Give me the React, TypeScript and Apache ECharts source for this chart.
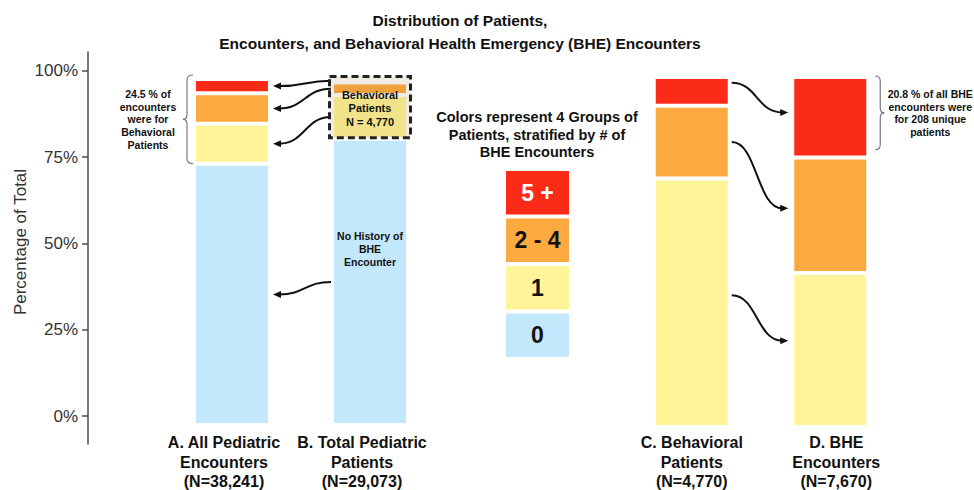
import React, { useEffect, useRef } from "react";
import * as echarts from "echarts";

// ---------- data ----------
const groupNames = ["0", "1", "2 - 4", "5 +"];
const leftCategories = [
  "A. All Pediatric\nEncounters\n(N=38,241)",
  "B. Total Pediatric\nPatients\n(N=29,073)",
];
const rightCategories = [
  "C. Behavioral\nPatients\n(N=4,770)",
  "D. BHE\nEncounters\n(N=7,670)",
];
// percent of each bar (A, B, C, D) by number of BHE encounters
const group0 = [75.5, 82.7, 0, 0];
const group1 = [11.6, 12.7, 71.0, 44.0];
const group2to4 = [8.8, 3.6, 20.8, 33.0];
const group5plus = [4.1, 1.0, 8.2, 23.0];
const yTicks = [0, 25, 50, 75, 100];
const legendUnits = [1, 1, 1, 1];
const bheTopShareD = 20.8;

const titleText = "Distribution of Patients,\nEncounters, and Behavioral Health Emergency (BHE) Encounters";
const keyTitle = "Colors represent 4 Groups of\nPatients, stratified by # of\nBHE Encounters";
const leftNote = "24.5 % of\nencounters\nwere for\nBehavioral\nPatients";
const rightNote = "20.8 % of all BHE\nencounters were\nfor 208 unique\npatients";
const boxNote = "Behavioral\nPatients\nN = 4,770";
const blueNote = "No History of\nBHE\nEncounter";

// ---------- style ----------
const FONT = '"Liberation Sans", Arial, Helvetica, sans-serif';
const COLORS = ["#C3E8FB", "#FFF598", "#FCAA3F", "#FC2B18"];
const BAR_W = 76;

export default function App() {
  const ref = useRef<HTMLDivElement>(null);

  useEffect(() => {
    if (!ref.current) return;
    const chart = echarts.init(ref.current, null, { renderer: "svg" });
    const groupData = [group0, group1, group2to4, group5plus];

    const series: any[] = [];
    groupData.forEach((arr, gi) => {
      series.push({
        type: "bar",
        name: groupNames[gi],
        xAxisIndex: 1,
        yAxisIndex: 1,
        stack: "left",
        barWidth: BAR_W,
        itemStyle: { color: COLORS[gi], borderColor: "#fff", borderWidth: 2 },
        data: arr.slice(0, 2).map((v, ci) =>
          gi === 0 && ci === 1
            ? {
                value: v,
                label: {
                  show: true,
                  position: "inside",
                  offset: [0, -33],
                  formatter: blueNote,
                  fontFamily: FONT,
                  fontWeight: "bold",
                  fontSize: 10.5,
                  lineHeight: 13,
                  color: "#111",
                },
              }
            : v
        ),
      });
    });
    groupData.forEach((arr, gi) => {
      series.push({
        type: "bar",
        name: groupNames[gi],
        xAxisIndex: 2,
        yAxisIndex: 2,
        stack: "right",
        barWidth: BAR_W,
        itemStyle: { color: COLORS[gi], borderColor: "#fff", borderWidth: 2 },
        data: arr.slice(2, 4),
      });
    });
    legendUnits.forEach((u, gi) => {
      series.push({
        type: "bar",
        xAxisIndex: 3,
        yAxisIndex: 3,
        stack: "key",
        barWidth: 67,
        silent: true,
        itemStyle: { color: COLORS[gi], borderColor: "#fff", borderWidth: 2 },
        label: {
          show: true,
          position: "inside",
          formatter: groupNames[gi],
          fontFamily: FONT,
          fontWeight: "bold",
          fontSize: 23,
          color: gi === 3 ? "#fff" : "#111",
        },
        data: [u],
      });
    });

    const catLabel = {
      fontFamily: FONT,
      fontWeight: "bold",
      fontSize: 16,
      lineHeight: 19.5,
      color: "#111",
      interval: 0,
    };

    const option: any = {
      animation: false,
      backgroundColor: "#fff",
      grid: [
        { left: 88, top: 52, width: 10, height: 392, outerBoundsMode: "none", containLabel: false },
        { left: 163, top: 79, width: 276, height: 346, outerBoundsMode: "none", containLabel: false },
        { left: 622.5, top: 77, width: 277, height: 350, outerBoundsMode: "none", containLabel: false },
        { left: 504, top: 169, width: 67, height: 190, outerBoundsMode: "none", containLabel: false },
      ],
      xAxis: [
        { gridIndex: 0, type: "value", show: false, min: 0, max: 1 },
        {
          gridIndex: 1,
          type: "category",
          data: leftCategories.map((v) => ({ value: v, textStyle: { padding: [0, 16, 0, 0] } })),
          axisLine: { show: false },
          axisTick: { show: false },
          axisLabel: { ...catLabel, margin: 8 },
        },
        {
          gridIndex: 2,
          type: "category",
          data: rightCategories.map((v, i) =>
            i === 1 ? { value: v, textStyle: { padding: [0, 0, 0, 12] } } : v
          ),
          axisLine: { show: false },
          axisTick: { show: false },
          axisLabel: { ...catLabel, margin: 6 },
        },
        { gridIndex: 3, type: "category", data: ["key"], show: false },
      ],
      yAxis: [
        {
          gridIndex: 0,
          type: "value",
          min: -8.1,
          max: 105.5,
          axisLine: { show: true, lineStyle: { color: "#4d4d4d", width: 1.5 } },
          axisTick: { show: true, length: 6, customValues: yTicks, lineStyle: { color: "#4d4d4d", width: 1.5 } },
          axisLabel: {
            customValues: yTicks,
            formatter: "{value}%",
            fontFamily: FONT,
            fontSize: 17,
            color: "#333",
            margin: 10,
          },
          splitLine: { show: false },
        },
        { gridIndex: 1, type: "value", min: 0, max: 100, show: false },
        { gridIndex: 2, type: "value", min: 0, max: 100, show: false },
        { gridIndex: 3, type: "value", min: 0, max: 4, show: false },
      ],
      series,
    };
    chart.setOption(option);

    // ---------- annotations anchored to data ----------
    const px = (grid: number, cat: number, val: number) =>
      chart.convertToPixel({ gridIndex: grid } as any, [cat, val]) as number[];
    const cum = (ci: number) => {
      const c = [0];
      groupData.forEach((arr) => c.push(c[c.length - 1] + arr[ci]));
      return c;
    };
    const segVal = (ci: number, gi: number, fromTop: number) => {
      const c = cum(ci);
      return c[gi + 1] - fromTop * (c[gi + 1] - c[gi]);
    };

    const g: any[] = [];
    const txt = (x: number, y: number, text: string, size: number, weight: string, lh: number, color = "#111", rotation = 0) => ({
      type: "text",
      x,
      y,
      rotation,
      silent: true,
      z: 20,
      style: {
        text,
        x: 0,
        y: 0,
        fill: color,
        fontFamily: FONT,
        fontSize: size,
        fontWeight: weight,
        lineHeight: lh,
        align: "center",
        verticalAlign: "middle",
        textAlign: "center",
        textVerticalAlign: "middle",
      },
    });
    const arrow = (sx: number, sy: number, ex: number, ey: number) => {
      const dir = ex > sx ? 1 : -1;
      const head = 8;
      const bx = ex - dir * (head - 2);
      const k = Math.abs(bx - sx) * 0.5;
      g.push({
        type: "bezierCurve",
        silent: true,
        shape: { x1: sx, y1: sy, x2: bx, y2: ey, cpx1: sx + dir * k, cpy1: sy, cpx2: bx - dir * k, cpy2: ey },
        style: { stroke: "#111", lineWidth: 2, fill: "none" },
      });
      g.push({
        type: "polygon",
        silent: true,
        shape: { points: [[ex, ey], [ex - dir * head, ey - 3.5], [ex - dir * head, ey + 3.5]] },
        style: { fill: "#111" },
      });
    };
    const brace = (endX: number, spineX: number, tipX: number, top: number, bottom: number) => {
      const m = (top + bottom) / 2;
      const r = 5;
      const st = { stroke: "#777", lineWidth: 1.2, fill: "none" };
      g.push({ type: "bezierCurve", silent: true, shape: { x1: endX, y1: top, cpx1: spineX, cpy1: top, x2: spineX, y2: top + r }, style: st });
      g.push({ type: "line", silent: true, shape: { x1: spineX, y1: top + r, x2: spineX, y2: m - r }, style: st });
      g.push({ type: "bezierCurve", silent: true, shape: { x1: spineX, y1: m - r, cpx1: spineX, cpy1: m, x2: tipX, y2: m }, style: st });
      g.push({ type: "bezierCurve", silent: true, shape: { x1: tipX, y1: m, cpx1: spineX, cpy1: m, x2: spineX, y2: m + r }, style: st });
      g.push({ type: "line", silent: true, shape: { x1: spineX, y1: m + r, x2: spineX, y2: bottom - r }, style: st });
      g.push({ type: "bezierCurve", silent: true, shape: { x1: spineX, y1: bottom - r, cpx1: spineX, cpy1: bottom, x2: endX, y2: bottom }, style: st });
      return m;
    };

    const aCx = px(1, 0, 0)[0];
    const bCx = px(1, 1, 0)[0];

    // dashed box around the behavioral part of bar B
    const boxTop = px(1, 1, 100)[1] - 2.5;
    const boxBottom = px(1, 1, group0[1])[1] - 1;
    g.push({
      type: "rect",
      silent: true,
      z: 10,
      shape: { x: bCx - BAR_W / 2 - 2.5, y: boxTop, width: BAR_W + 5, height: boxBottom - boxTop },
      style: { fill: "rgba(150,105,40,0.13)", stroke: "#222", lineWidth: 3, lineDash: [7, 4] },
    });
    g.push(txt(bCx, (boxTop + boxBottom) / 2 + 1, boxNote, 11, "bold", 13.5));

    // left arrows: B -> A
    [3, 2, 1, 0].forEach((gi) => {
      const sy = px(1, 1, segVal(1, gi, 0.5))[1];
      const ey = px(1, 0, segVal(0, gi, 0.5))[1];
      arrow(bCx - BAR_W / 2 - 1, sy, aCx + BAR_W / 2 + 3, ey);
    });
    // right arrows: C -> D
    const cCx = px(2, 0, 0)[0];
    const dCx = px(2, 1, 0)[0];
    const startFrac: Record<number, number> = { 3: 0.2, 2: 0.5, 1: 0.47 };
    [3, 2, 1].forEach((gi) => {
      const sy = px(2, 0, segVal(2, gi, startFrac[gi]))[1];
      const ey = px(2, 1, segVal(3, gi, 0.44))[1];
      arrow(cCx + BAR_W / 2 + 2, sy, dCx - BAR_W / 2 - 4, ey);
    });

    // braces + notes
    const aLeft = aCx - BAR_W / 2;
    const lm = brace(aLeft - 1, aLeft - 7, aLeft - 11, px(1, 0, 100)[1] - 4, px(1, 0, group0[0])[1]);
    g.push(txt(aLeft - 46, lm, leftNote, 10.5, "bold", 12.8));
    const dRight = dCx + BAR_W / 2;
    const rm = brace(dRight + 7, dRight + 12, dRight + 16, px(2, 1, 100)[1] - 1, px(2, 1, 100 - bheTopShareD)[1]);
    g.push(txt(dRight + 62, rm, rightNote, 10.5, "bold", 12.8));

    // titles
    g.push(txt(460, 31.5, titleText, 15.5, "bold", 23));
    g.push(txt(537, 134.5, keyTitle, 14.5, "bold", 17.5));
    g.push(txt(20, 242, "Percentage of Total", 17, "normal", 20, "#333", Math.PI / 2));

    chart.setOption({ graphic: g });

    return () => chart.dispose();
  }, []);

  return (
    <div
      ref={ref}
      style={{ position: "fixed", left: 0, top: 0, width: 974, height: 490, background: "#fff" }}
    />
  );
}
